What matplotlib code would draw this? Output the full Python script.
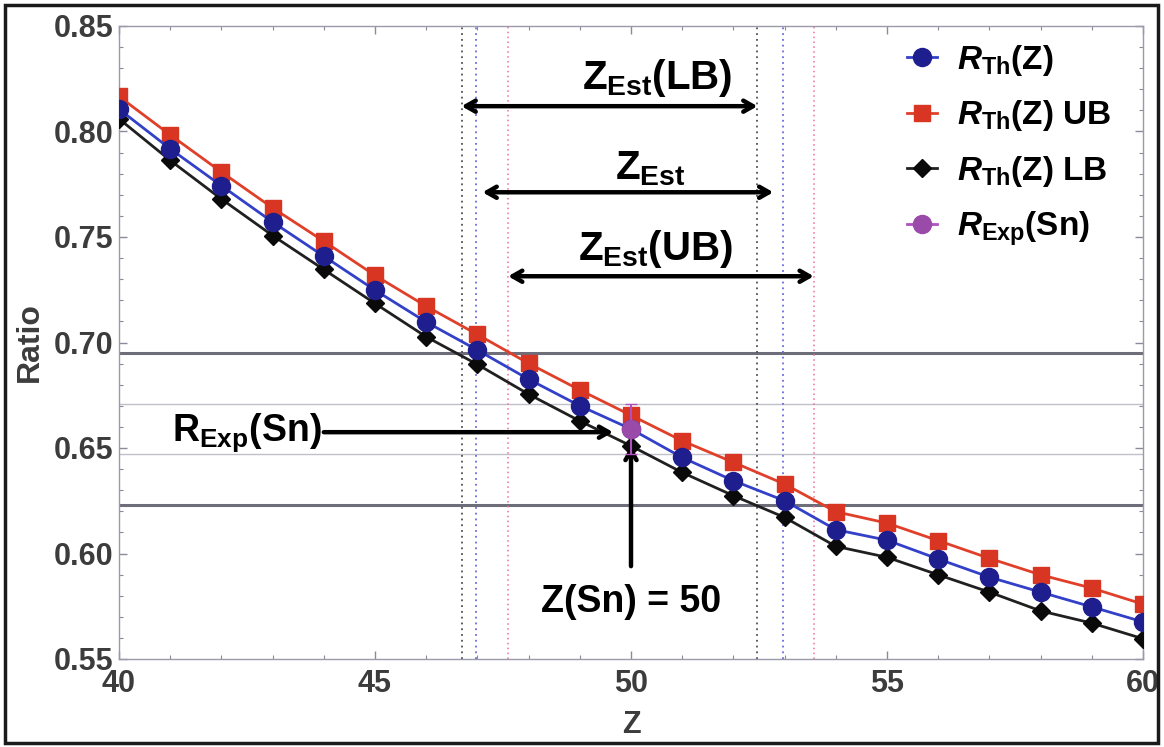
import matplotlib
matplotlib.use("Agg")
import matplotlib.pyplot as plt
from matplotlib.lines import Line2D
from matplotlib.patches import Rectangle
from matplotlib.ticker import MultipleLocator, FormatStrFormatter

plt.rcParams['font.family'] = ['Liberation Sans', 'DejaVu Sans']
plt.rcParams['font.weight'] = 'bold'
plt.rcParams['mathtext.fontset'] = 'custom'
plt.rcParams['mathtext.rm'] = 'Liberation Sans:bold'
plt.rcParams['mathtext.bf'] = 'Liberation Sans:bold'
plt.rcParams['mathtext.it'] = 'Liberation Sans:italic:bold'

# ratio vs Z with upper/lower bounds
z = list(range(40, 61))
r_th = [0.8106, 0.7918, 0.7743, 0.7571, 0.7409, 0.7248, 0.7097, 0.6964, 0.6826, 0.6700,
        0.6590, 0.6455, 0.6345, 0.6250, 0.6113, 0.6063, 0.5974, 0.5888, 0.5817, 0.5747, 0.5676]
r_ub = [0.8166, 0.7984, 0.7808, 0.7638, 0.7480, 0.7318, 0.7172, 0.7038, 0.6901, 0.6775,
        0.6655, 0.6534, 0.6432, 0.6329, 0.6198, 0.6144, 0.6061, 0.5977, 0.5899, 0.5836, 0.5760]
r_lb = [0.8060, 0.7863, 0.7680, 0.7507, 0.7346, 0.7185, 0.7027, 0.6896, 0.6755, 0.6628,
        0.6510, 0.6384, 0.6274, 0.6171, 0.6034, 0.5982, 0.5899, 0.5817, 0.5728, 0.5670, 0.5596]

# measured ratio for Sn
z_sn = 50
r_exp = 0.659
r_exp_err = 0.012
r_band = 0.036

# crossing points of the bands with each curve
z_cross_lb = [46.69, 52.47]
z_cross_th = [46.97, 52.97]
z_cross_ub = [47.60, 53.57]
z_arrow_est = [47.10, 52.78]

fig = plt.figure(figsize=(11.64, 7.47), dpi=100)
ax = fig.add_axes([119 / 1164, 1 - 659 / 747, 1024 / 1164, 633 / 747])

# bands around the measured value
for y in (r_exp + r_band, r_exp - r_band):
    ax.axhline(y, color='#6e6e7a', lw=2.2, zorder=1)
for y in (r_exp + r_exp_err, r_exp - r_exp_err):
    ax.axhline(y, color='#c0c0c8', lw=1.0, zorder=1)

dots = (0, (1, 2.2))
for x in z_cross_lb:
    ax.axvline(x, color='#505058', lw=1.3, ls=dots, zorder=1)
for x in z_cross_th:
    ax.axvline(x, color='#6a6ae0', lw=1.3, ls=dots, zorder=1)
for x in z_cross_ub:
    ax.axvline(x, color='#f07090', lw=1.1, ls=dots, zorder=1)

th_style = dict(color='#3340c8', lw=2, marker='o', ms=13, mfc='#1e1e8e', mec='#1e1e8e')
ub_style = dict(color='#e0402a', lw=2, marker='s', ms=11, mfc='#d83522', mec='#d83522')
lb_style = dict(color='#202020', lw=2, marker='D', ms=9, mfc='#0a0a0a', mec='#0a0a0a')

ax.plot(z, r_ub, zorder=3, **ub_style)
ax.plot(z, r_th, zorder=4, **th_style)
ax.plot(z, r_lb, zorder=3, **lb_style)
ax.errorbar([z_sn], [r_exp], yerr=[r_exp_err], fmt='o', ms=13, color='#9a4aa8',
            mec='#9a4aa8', ecolor='#b050c0', elinewidth=1.5, capsize=4, zorder=5)

handles = [Line2D([], [], **th_style), Line2D([], [], **ub_style), Line2D([], [], **lb_style),
           Line2D([], [], color='#b050c0', lw=2, marker='o', ms=13, mfc='#9a4aa8', mec='#9a4aa8')]
labels = [r'$\mathit{R}_{\mathbf{Th}}$(Z)', r'$\mathit{R}_{\mathbf{Th}}$(Z) UB',
          r'$\mathit{R}_{\mathbf{Th}}$(Z) LB', r'$\mathit{R}_{\mathbf{Exp}}$(Sn)']
ax.legend(handles, labels, loc='upper right', frameon=False, fontsize=24,
          handlelength=0.9, handletextpad=0.6, labelspacing=0.62, borderaxespad=0.1,
          bbox_to_anchor=(0.985, 1.0))

# estimated Z ranges
arr = dict(arrowstyle='<->,head_length=0.7,head_width=0.4', lw=3.2, color='black',
           shrinkA=0, shrinkB=0)
ax.annotate('', xy=(z_cross_lb[0], 0.812), xytext=(z_cross_lb[1], 0.812), arrowprops=arr)
ax.annotate('', xy=(z_arrow_est[0], 0.7712), xytext=(z_arrow_est[1], 0.7712), arrowprops=arr)
ax.annotate('', xy=(z_cross_ub[0], 0.7314), xytext=(z_cross_ub[1], 0.7314), arrowprops=arr)
ax.text(50.52, 0.8255, r'Z$_{\mathbf{Est}}$(LB)', fontsize=29, ha='center', va='center')
ax.text(50.38, 0.7825, r'Z$_{\mathbf{Est}}$', fontsize=29, ha='center', va='center')
ax.text(50.48, 0.7445, r'Z$_{\mathbf{Est}}$(UB)', fontsize=29, ha='center', va='center')

one = dict(arrowstyle='->,head_length=0.7,head_width=0.4', lw=3.2, color='black',
           shrinkA=0, shrinkB=0)
ax.annotate('', xy=(49.65, 0.6575), xytext=(44.0, 0.6575), arrowprops=one)
ax.text(43.95, 0.6575, r'R$_{\mathbf{Exp}}$(Sn)', fontsize=27, ha='right', va='center')
ax.annotate('', xy=(z_sn, 0.651), xytext=(z_sn, 0.594), arrowprops=one)
ax.text(z_sn, 0.577, 'Z(Sn) = 50', fontsize=27, ha='center', va='center')

ax.set_xlim(40, 60)
ax.set_ylim(0.55, 0.85)
ax.xaxis.set_major_locator(MultipleLocator(5))
ax.xaxis.set_minor_locator(MultipleLocator(1))
ax.yaxis.set_major_locator(MultipleLocator(0.05))
ax.yaxis.set_minor_locator(MultipleLocator(0.01))
ax.yaxis.set_major_formatter(FormatStrFormatter('%.2f'))
ax.tick_params(which='both', direction='in', top=True, right=True, color='#8a8a9a',
               labelsize=22, labelcolor='#3c3c3c')
ax.tick_params(which='major', length=6, width=1, pad=4)
ax.tick_params(axis='x', which='major', pad=7)
ax.tick_params(which='minor', length=3, width=0.8)
for s in ax.spines.values():
    s.set_color('#9a9aaa')
    s.set_linewidth(1)

ax.set_xlabel('Z', fontsize=22, fontweight='bold', color='#3c3c3c', labelpad=8)
ax.set_ylabel('Ratio', fontsize=23, fontweight='bold', color='#3c3c3c', labelpad=6)

fig.patches.append(Rectangle((5 / 1164, 4 / 747), 1153 / 1164, 738 / 747, transform=fig.transFigure,
                             fill=False, lw=2.5, ec='#1a1a1a'))

fig.savefig('out.png', dpi=100)
